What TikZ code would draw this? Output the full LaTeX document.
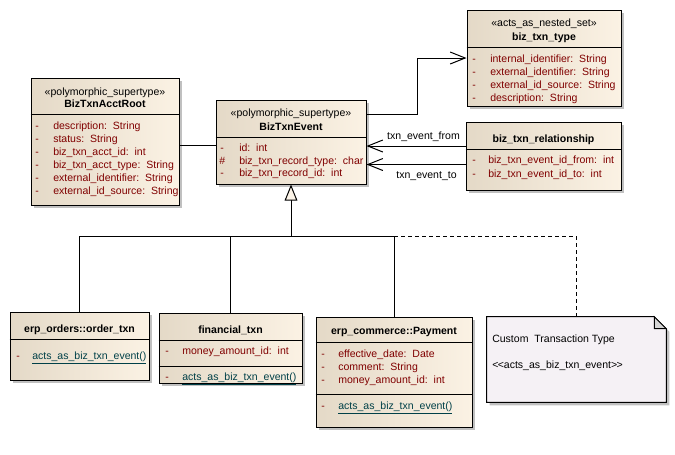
\documentclass[tikz,border=0pt]{standalone}
\usepackage{fontspec}
\setmainfont{Liberation Sans}
\usetikzlibrary{arrows.meta,calc,fit,shadows}

\definecolor{boxL}{RGB}{228,217,199}
\definecolor{boxR}{RGB}{251,242,228}
\definecolor{attrred}{RGB}{128,0,0}
\definecolor{opteal}{RGB}{0,64,72}
\definecolor{shadowgray}{RGB}{192,192,192}
\definecolor{notefill}{RGB}{245,241,245}
\definecolor{foldgray}{RGB}{212,212,212}
\definecolor{trifill}{RGB}{252,244,232}

\newcommand\umlfont{\fontsize{7.9}{9}\selectfont}

\tikzset{
  classbox/.style={draw=black, line width=0.75pt, inner sep=0pt,
    left color=boxL, right color=boxR,
    drop shadow={shadow xshift=2.25pt, shadow yshift=-2.25pt,
                 fill=shadowgray, opacity=1}},
  sep/.style={draw=black, line width=0.75pt},
  txt/.style={font=\umlfont, inner sep=0pt, text height=1.6ex, text depth=0.3ex},
  stereo/.style={txt},
  cname/.style={txt, font=\umlfont\bfseries},
  vis/.style={txt, anchor=west, text=attrred},
  attr/.style={txt, anchor=west, text=attrred},
  oper/.style={txt, anchor=west, text=opteal},
  conn/.style={draw=black, line width=0.75pt},
  barb/.style={-{Straight Barb[length=11.25pt, width=9pt, line width=0.75pt]}},
  genarrow/.style={-{Triangle[open, length=12pt, width=9.5pt, line width=0.75pt, fill=trifill]}},
  rolelabel/.style={txt, text=black},
}

\begin{document}
\begin{tikzpicture}[x=0.75pt, y=-0.75pt]
\useasboundingbox (0,0) rectangle (675,454);

% ---------------- BizTxnAcctRoot ----------------
\node[classbox, fit={(31,78) (179,205)}] (root) {};
\node[stereo] (rootst) at (105,91) {«polymorphic\_supertype»};
\node[cname] (rootnm) at (105,103) {BizTxnAcctRoot};
\draw[sep] (root.west |- 0,114) -- (root.east |- 0,114);
\foreach \t [count=\i from 0] in {description:\ \ String, status:\ \ String,
    biz\_txn\_acct\_id:\ \ int, biz\_txn\_acct\_type:\ \ String,
    external\_identifier:\ \ String, external\_id\_source:\ \ String}{
  \node[vis] (rootv\i) at (35,125+13*\i) {-};
  \node[attr] (roota\i) at (53,125+13*\i) {\t};
}

% ---------------- BizTxnEvent ----------------
\node[classbox, fit={(216,100) (366,184)}] (evt) {};
\node[stereo] (evtst) at (291,112) {«polymorphic\_supertype»};
\node[cname] (evtnm) at (291,126) {BizTxnEvent};
\draw[sep] (evt.west |- 0,137) -- (evt.east |- 0,137);
\node[vis] (evtv0) at (220,147) {-};
\node[attr] (evta0) at (239,147) {id:\ \ int};
\node[vis] (evtv1) at (219,159.5) {\#};
\node[attr] (evta1) at (239,159.5) {biz\_txn\_record\_type:\ \ char};
\node[vis] (evtv2) at (220,172) {-};
\node[attr] (evta2) at (239,172) {biz\_txn\_record\_id:\ \ int};

% ---------------- biz_txn_type ----------------
\node[classbox, fit={(467,10) (621,106)}] (type) {};
\node[stereo] (typest) at (544,22) {«acts\_as\_nested\_set»};
\node[cname] (typenm) at (544,36) {biz\_txn\_type};
\draw[sep] (type.west |- 0,47) -- (type.east |- 0,47);
\foreach \t [count=\i from 0] in {internal\_identifier:\ \ String,
    external\_identifier:\ \ String, external\_id\_source:\ \ String,
    description:\ \ String}{
  \node[vis] (typev\i) at (472,58+13*\i) {-};
  \node[attr] (typea\i) at (490,58+13*\i) {\t};
}

% ---------------- biz_txn_relationship ----------------
\node[classbox, fit={(466,122) (621,190)}] (rel) {};
\node[cname] (relnm) at (543.5,138) {biz\_txn\_relationship};
\draw[sep] (rel.west |- 0,149) -- (rel.east |- 0,149);
\node[vis] (relv0) at (472,159) {-};
\node[attr] (rela0) at (488,159) {biz\_txn\_event\_id\_from:\ \ int};
\node[vis] (relv1) at (472,172.5) {-};
\node[attr] (rela1) at (488,172.5) {biz\_txn\_event\_id\_to:\ \ int};

% ---------------- erp_orders::order_txn ----------------
\node[classbox, fit={(10,312) (149,380)}] (order) {};
\node[cname] (ordernm) at (79.5,328) {erp\_orders::order\_txn};
\draw[sep] (order.west |- 0,339) -- (order.east |- 0,339);
\node[vis] (orderv0) at (16,355) {-};
\node[oper] (ordero0) at (32,355) {\underline{acts\_as\_biz\_txn\_event()}};

% ---------------- financial_txn ----------------
\node[classbox, fit={(159,313) (302,383)}] (fin) {};
\node[cname] (finnm) at (230.5,329) {financial\_txn};
\draw[sep] (fin.west |- 0,340) -- (fin.east |- 0,340);
\node[vis] (finv0) at (165,350) {-};
\node[attr] (fina0) at (182,350) {money\_amount\_id:\ \ int};
\draw[sep] (fin.west |- 0,366) -- (fin.east |- 0,366);
\node[vis] (finv1) at (165,376) {-};
\node[oper] (fino0) at (182,376) {\underline{acts\_as\_biz\_txn\_event()}};

% ---------------- erp_commerce::Payment ----------------
\node[classbox, fit={(316,317) (472,427)}] (pay) {};
\node[cname] (paynm) at (394,330) {erp\_commerce::Payment};
\draw[sep] (pay.west |- 0,342) -- (pay.east |- 0,342);
\foreach \t [count=\i from 0] in {effective\_date:\ \ Date, comment:\ \ String,
    money\_amount\_id:\ \ int}{
  \node[vis] (payv\i) at (321,353+13*\i) {-};
  \node[attr] (paya\i) at (338,353+13*\i) {\t};
}
\draw[sep] (pay.west |- 0,394) -- (pay.east |- 0,394);
\node[vis] (payv3) at (321,405) {-};
\node[oper] (payo0) at (338,405) {\underline{acts\_as\_biz\_txn\_event()}};

% ---------------- note with folded corner ----------------
\node[inner sep=0pt, fit={(487,317) (666,402)}] (note) {};
\fill[shadowgray] ($(note.north west)+(3,3)$) -- ($(note.north east)+(-9,3)$)
  -- ($(note.north east)+(3,15)$) -- ($(note.south east)+(3,3)$)
  -- ($(note.south west)+(3,3)$) -- cycle;
\draw[conn, fill=notefill] (note.north west) -- ($(note.north east)+(-12,0)$)
  -- ($(note.north east)+(0,12)$) -- (note.south east) -- (note.south west) -- cycle;
\draw[conn, fill=foldgray] ($(note.north east)+(-12,0)$) -- ($(note.north east)+(-12,12)$)
  -- ($(note.north east)+(0,12)$) -- cycle;
\node[txt, anchor=west] (notel1) at (492,338) {Custom\ \ Transaction Type};
\node[txt, anchor=west] (notel2) at (492,364) {<\kern-0.5pt<acts\_as\_biz\_txn\_event>\kern-0.5pt>};

% ---------------- associations ----------------
\draw[conn] (root.east |- 0,145) -- (evt.west |- 0,145);

\coordinate (tbend) at (417,114);
\draw[conn, barb] (evt.east |- tbend) -- (tbend) |- (type.west |- 0,58);

\draw[conn, barb] (rel.west |- 0,146) -- (evt.east |- 0,146);
\draw[conn, barb] (rel.west |- 0,164.5) -- (evt.east |- 0,164.5);
\node[rolelabel] (lfrom) at (423.5,135) {txn\_event\_from};
\node[rolelabel] (lto) at (426.5,174) {txn\_event\_to};

% ---------------- generalization ----------------
\coordinate (gen) at (evt.south |- 0,236.5);
\draw[conn, genarrow] (gen) -- (evt.south);
\draw[conn] (order.north) |- (gen);
\draw[conn] (fin.north) -- (fin.north |- gen);
\draw[conn] (pay.north) |- (gen);
\coordinate (jpay) at (pay.north |- gen);
\draw[conn, dashed, dash pattern=on 3pt off 2.25pt] (note.north) |- (jpay);
\end{tikzpicture}
\end{document}
